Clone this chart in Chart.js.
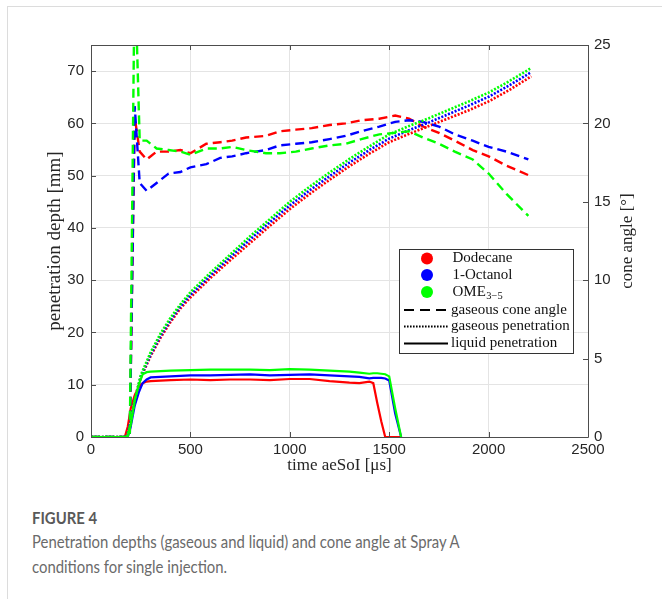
<!DOCTYPE html>
<html>
<head>
<meta charset="utf-8">
<script src="https://cdn.jsdelivr.net/npm/chart.js@4"></script>
<style>
  body { margin: 0; background: #fff; width: 662px; height: 599px; overflow: hidden; position: relative; }
  #frame { position: absolute; left: 7px; top: 6px; right: 0; bottom: 0; border-top: 1px solid #dcdcdc; border-left: 1px solid #dcdcdc; }
  #wrap { position: absolute; left: 0; top: 0; width: 662px; height: 490px; }
  .cap { position: absolute; left: 32px; font-family: Lato, "Open Sans", sans-serif; color: #6a6a6a; white-space: nowrap;
         transform: scaleX(0.875); transform-origin: 0 0; }
  #figno { top: 508px; font-size: 17px; line-height: 20px; font-weight: bold; color: #595959; }
  #captxt { top: 529px; font-size: 17px; line-height: 25px; }
</style>
</head>
<body>
<div id="frame"></div>
<div id="wrap"><canvas id="myChart" width="662" height="490"></canvas></div>
<div class="cap" id="figno">FIGURE 4</div>
<div class="cap" id="captxt">Penetration depths (gaseous and liquid) and cone angle at Spray A<br>conditions for single injection.</div>

<script>
// tick values
const timeTicks = [0, 500, 1000, 1500, 2000, 2500];
const depthTicks = [0, 10, 20, 30, 40, 50, 60, 70];
const angleTicks = [0, 5, 10, 15, 20, 25];

const fuels = ['Dodecane', '1-Octanol', 'OME'];
const fuelColors = ['#ff0000', '#0000ff', '#00ff00'];

// gaseous penetration [mm]
const gasTime = [0, 180, 200, 220, 250, 300, 350, 400, 450, 500, 600, 700, 800, 900, 1000, 1100, 1200, 1300, 1400, 1500, 1600, 1700, 1800, 1900, 2000, 2100, 2215];
const gasDodecane = [0, 0, 3.5, 7.5, 11.3, 15.5, 19.0, 22.0, 24.6, 26.7, 30.4, 33.8, 37.1, 40.4, 43.6, 46.5, 49.2, 51.8, 54.2, 56.4, 58.0, 59.5, 61.0, 62.5, 64.2, 66.3, 69.0];
const gasOctanol = [0, 0, 3, 7, 11.5, 15.8, 19.4, 22.4, 25.0, 27.2, 30.9, 34.4, 37.8, 41.1, 44.3, 47.2, 49.9, 52.5, 54.9, 57.1, 58.7, 60.2, 61.8, 63.4, 65.1, 67.2, 69.8];
const gasOME = [0, 0, 2.5, 7, 11.8, 16.2, 19.8, 22.8, 25.4, 27.7, 31.4, 34.9, 38.4, 41.7, 45.0, 47.9, 50.6, 53.2, 55.6, 57.9, 59.5, 61.0, 62.6, 64.2, 65.9, 68.0, 70.6];

// gaseous cone angle [deg]
const coneTime = [0, 195, 220, 245, 280, 330, 390, 450, 500, 580, 650, 710, 780, 880, 950, 1030, 1110, 1200, 1280, 1360, 1450, 1530, 1600, 1670, 1750, 1830, 1920, 2000, 2090, 2200];
const coneDodecane = [0, 0, 20.4, 18.2, 17.7, 18.2, 18.2, 18.3, 18.1, 18.7, 18.8, 18.9, 19.1, 19.2, 19.5, 19.6, 19.7, 19.9, 20.0, 20.2, 20.3, 20.5, 20.3, 19.8, 19.4, 18.9, 18.3, 17.9, 17.3, 16.7];
const coneOctanol = [0, 0, 21.1, 16.2, 15.7, 16.2, 16.8, 16.9, 17.2, 17.4, 17.8, 17.9, 18.1, 18.3, 18.6, 18.7, 18.8, 19.0, 19.2, 19.5, 19.8, 20.1, 20.2, 20.1, 19.8, 19.3, 18.9, 18.5, 18.2, 17.7];
const coneOME = [0, 0, 30, 18.9, 18.9, 18.4, 18.3, 18.2, 18.0, 18.4, 18.4, 18.5, 18.3, 18.1, 18.1, 18.2, 18.4, 18.6, 18.7, 19.0, 19.3, 19.4, 19.5, 19.1, 18.7, 18.2, 17.7, 16.8, 15.5, 14.1];

// liquid penetration [mm]
const liqTime = [0, 170, 185, 200, 220, 240, 260, 280, 300, 400, 500, 600, 700, 800, 900, 1000, 1100, 1200, 1300, 1350, 1400, 1420, 1440, 1460, 1480, 1500, 1530, 1560];
const liqDodecane = [0, 0, 2, 5.5, 8, 9.5, 10.3, 10.6, 10.7, 10.9, 11, 10.9, 11, 11, 10.9, 11.1, 11.1, 10.7, 10.4, 10.3, 10.6, 10.3, 6.5, 3, 0, 0, 0, 0];
const liqOctanol = [0, 0, 0, 2, 6, 8.5, 10.3, 11, 11.4, 11.6, 11.8, 11.8, 11.9, 12, 11.8, 11.9, 12, 11.8, 11.6, 11.5, 11.2, 11.3, 11.3, 11.3, 11.2, 10.8, 4.5, 0];
const liqOME = [0, 0, 0, 2.5, 7, 10, 12, 12.4, 12.5, 12.7, 12.8, 12.9, 12.9, 12.9, 12.8, 13, 12.9, 12.7, 12.5, 12.3, 12.1, 12.2, 12.2, 12.1, 12, 11.6, 5.5, 0];

function pts(xs, ys) {
  return xs.map((x, i) => ({ x: x, y: ys[i] }));
}

const gasSets = [gasDodecane, gasOctanol, gasOME];
const coneSets = [coneDodecane, coneOctanol, coneOME];
const liqSets = [liqDodecane, liqOctanol, liqOME];

const datasets = [];
for (let i = 0; i < 3; i++) {
  datasets.push({ label: fuels[i] + ' liquid', data: pts(liqTime, liqSets[i]), yAxisID: 'y',
    borderColor: fuelColors[i], borderWidth: 2.2, pointRadius: 0, order: 3 - i });
  datasets.push({ label: fuels[i] + ' gaseous', data: pts(gasTime, gasSets[i]), yAxisID: 'y',
    borderColor: fuelColors[i], borderWidth: 2.6, borderDash: [2, 1.6], pointRadius: 0, order: 3 - i });
  datasets.push({ label: fuels[i] + ' cone', data: pts(coneTime, coneSets[i]), yAxisID: 'y2',
    borderColor: fuelColors[i], borderWidth: 2.4, borderDash: [9, 5], pointRadius: 0, order: 3 - i });
}

const serif = '"Liberation Serif", "DejaVu Serif", serif';
const sans = '"Liberation Sans", Arial, sans-serif';
const plain = v => String(v);

const boxPlugin = {
  id: 'box',
  afterDatasetsDraw(chart) {
    const ctx = chart.ctx;
    const a = chart.chartArea;
    const sx = chart.scales.x, sy = chart.scales.y, sy2 = chart.scales.y2;
    ctx.save();
    ctx.strokeStyle = '#4d4d4d';
    ctx.lineWidth = 1;
    ctx.beginPath();
    ctx.rect(Math.round(a.left) + 0.5, Math.round(a.top) + 0.5, Math.round(a.right - a.left), Math.round(a.bottom - a.top));
    timeTicks.forEach(v => {
      const x = Math.round(sx.getPixelForValue(v)) + 0.5;
      ctx.moveTo(x, a.bottom); ctx.lineTo(x, a.bottom - 5);
      ctx.moveTo(x, a.top); ctx.lineTo(x, a.top + 5);
    });
    depthTicks.forEach(v => {
      const y = Math.round(sy.getPixelForValue(v)) + 0.5;
      ctx.moveTo(a.left, y); ctx.lineTo(a.left + 5, y);
    });
    angleTicks.forEach(v => {
      const y = Math.round(sy2.getPixelForValue(v)) + 0.5;
      ctx.moveTo(a.right, y); ctx.lineTo(a.right - 5, y);
    });
    ctx.stroke();

    // right axis title, reading bottom to top
    ctx.save();
    ctx.translate(628, (a.top + a.bottom) / 2);
    ctx.rotate(-Math.PI / 2);
    ctx.fillStyle = '#262626';
    ctx.font = '17px ' + serif;
    ctx.textAlign = 'center';
    ctx.textBaseline = 'middle';
    ctx.fillText('cone angle [°]', 0, 0);
    ctx.restore();

    // legend
    const L = 399, T = 249, R = 573, B = 353;
    ctx.fillStyle = '#fff';
    ctx.fillRect(L, T, R - L, B - T);
    ctx.strokeStyle = '#333';
    ctx.strokeRect(L + 0.5, T + 0.5, R - L, B - T);
    const rows = [258.5, 275, 292, 310, 326.5, 343.5];
    ctx.font = '15px ' + serif;
    ctx.textBaseline = 'middle';
    ctx.textAlign = 'left';
    for (let i = 0; i < 3; i++) {
      ctx.fillStyle = fuelColors[i];
      ctx.beginPath();
      ctx.arc(427, rows[i], 6, 0, Math.PI * 2);
      ctx.fill();
    }
    ctx.fillStyle = '#111';
    ctx.fillText('Dodecane', 452.5, rows[0]);
    ctx.fillText('1-Octanol', 452.5, rows[1]);
    ctx.fillText('OME', 452.5, rows[2]);
    const w = ctx.measureText('OME').width;
    ctx.font = '10.5px ' + serif;
    ctx.fillText('3\u22125', 452.5 + w + 0.5, rows[2] + 4);
    ctx.font = '15px ' + serif;
    const lineLabels = ['gaseous cone angle', 'gaseous penetration', 'liquid penetration'];
    const dashes = [[10, 6], [1.6, 1.4], []];
    ctx.strokeStyle = '#000';
    ctx.lineWidth = 2;
    for (let j = 0; j < 3; j++) {
      const y = rows[3 + j];
      ctx.setLineDash(dashes[j]);
      ctx.beginPath();
      ctx.moveTo(404, y); ctx.lineTo(448, y);
      ctx.stroke();
      ctx.fillText(lineLabels[j], 451, y);
    }
    ctx.setLineDash([]);
    ctx.restore();
  }
};

const ctx = document.getElementById('myChart');
new Chart(ctx, {
  type: 'line',
  data: { datasets: datasets },
  options: {
    responsive: false,
    animation: false,
    layout: { padding: { top: 45, left: 0, right: 0, bottom: 0 } },
    plugins: { legend: { display: false }, tooltip: { enabled: false } },
    elements: { line: { tension: 0 } },
    scales: {
      x: {
        type: 'linear', min: 0, max: 2500,
        afterBuildTicks: s => { s.ticks = timeTicks.map(v => ({ value: v })); },
        afterFit: s => { s.height = 53; },
        grid: { color: '#e4e4e4', drawTicks: false },
        border: { display: false },
        ticks: { color: '#262626', font: { family: sans, size: 15 }, padding: 4, maxRotation: 0, callback: plain },
        title: { display: true, text: 'time aeSoI [\u03bcs]', color: '#262626', font: { family: serif, size: 17 }, padding: { top: 0, bottom: 14 } }
      },
      y: {
        type: 'linear', position: 'left', min: 0, max: 75,
        afterBuildTicks: s => { s.ticks = depthTicks.map(v => ({ value: v })); },
        afterFit: s => { s.width = 91; },
        grid: { color: '#e4e4e4', drawTicks: false },
        border: { display: false },
        ticks: { color: '#262626', font: { family: sans, size: 15 }, padding: 7, callback: plain },
        title: { display: true, text: 'penetration depth [mm]', color: '#262626', font: { family: serif, size: 19 }, padding: { top: 44, bottom: 0 } }
      },
      y2: {
        type: 'linear', position: 'right', min: 0, max: 25,
        afterBuildTicks: s => { s.ticks = angleTicks.map(v => ({ value: v })); },
        afterFit: s => { s.width = 74; },
        grid: { drawOnChartArea: false, drawTicks: false },
        border: { display: false },
        ticks: { color: '#262626', font: { family: sans, size: 15 }, padding: 6, callback: plain }
      }
    }
  },
  plugins: [boxPlugin]
});
</script>
</body>
</html>
